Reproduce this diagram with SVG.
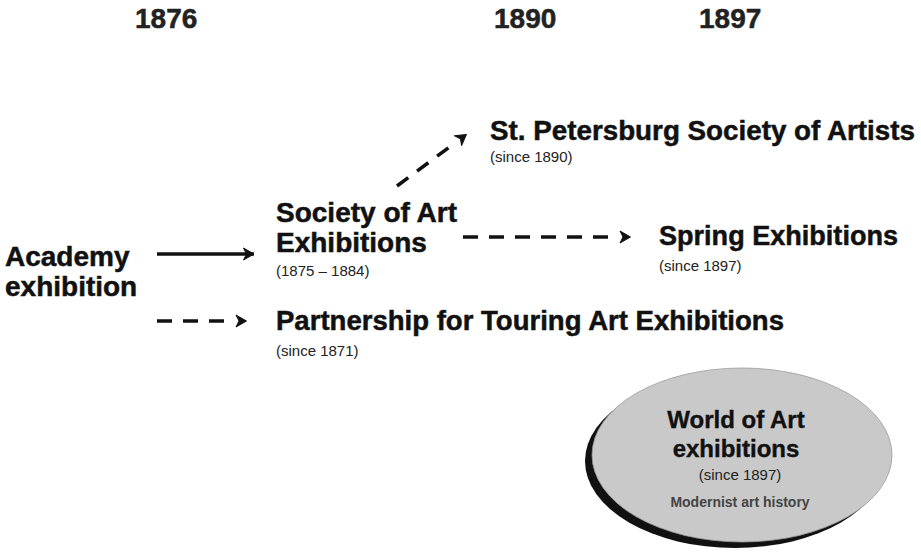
<svg xmlns="http://www.w3.org/2000/svg" width="921" height="553" viewBox="0 0 921 553">
  <style>
    .year { font-family: "Liberation Sans", Arial, sans-serif; font-weight: bold; font-size: 28px; fill: #222; stroke: #222; stroke-width: 0.5; }
    .title { font-family: "Liberation Sans", Arial, sans-serif; font-weight: bold; font-size: 28px; fill: #111; stroke: #111; stroke-width: 0.5; }
    .sub { font-family: "Liberation Sans", Arial, sans-serif; font-size: 15px; fill: #222; }
    .wtitle { font-family: "Liberation Sans", Arial, sans-serif; font-weight: bold; font-size: 24px; fill: #111; stroke: #111; stroke-width: 0.4; }
    .note { font-family: "Liberation Sans", Arial, sans-serif; font-weight: bold; font-size: 14px; fill: #444; }
    .link { fill: none; stroke: #111; stroke-width: 3.6; }
    .dash { stroke-dasharray: 15 11; }
    .dash-diag { stroke-dasharray: 14 11; }
  </style>
  <defs>
    <!-- arrowhead set right at the end of a solid line -->
    <marker id="head" viewBox="0 -7 12 14" refX="11" refY="0" markerWidth="12" markerHeight="14" markerUnits="userSpaceOnUse" orient="auto">
      <path d="M0.5,-6 L11,0 L0.5,6 L3.5,0 Z" fill="#111" stroke="#111" stroke-width="1" stroke-linejoin="round"/>
    </marker>
    <!-- arrowhead placed one gap beyond the last dash -->
    <marker id="head-gap" viewBox="0 -7 24 14" refX="0" refY="0" markerWidth="24" markerHeight="14" markerUnits="userSpaceOnUse" orient="auto">
      <path d="M12,-6 L22.5,0 L12,6 L15,0 Z" fill="#111" stroke="#111" stroke-width="1" stroke-linejoin="round"/>
    </marker>
  </defs>

  <!-- timeline years -->
  <g id="years">
    <text class="year" x="135" y="28">1876</text>
    <text class="year" x="494" y="28">1890</text>
    <text class="year" x="699" y="28">1897</text>
  </g>

  <!-- connectors -->
  <g id="connectors">
    <line class="link" x1="157" y1="254" x2="254" y2="254" marker-end="url(#head)"/>
    <line class="link dash" x1="157" y1="321" x2="224" y2="321" marker-end="url(#head-gap)"/>
    <line class="link dash" x1="463" y1="237" x2="608" y2="237" marker-end="url(#head-gap)"/>
    <line class="link dash-diag" x1="397" y1="186" x2="448.4" y2="147.8" marker-end="url(#head-gap)"/>
  </g>

  <g id="academy">
    <text class="title" x="5" y="266">Academy</text>
    <text class="title" x="5" y="296">exhibition</text>
  </g>

  <g id="society">
    <text class="title" x="276" y="222">Society of Art</text>
    <text class="title" x="276" y="252">Exhibitions</text>
    <text class="sub" x="276" y="276">(1875 – 1884)</text>
  </g>

  <g id="petersburg">
    <text class="title" x="490" y="140" textLength="425" lengthAdjust="spacingAndGlyphs">St. Petersburg Society of Artists</text>
    <text class="sub" x="490" y="162">(since 1890)</text>
  </g>

  <g id="spring">
    <text class="title" x="659" y="245" textLength="239" lengthAdjust="spacingAndGlyphs">Spring Exhibitions</text>
    <text class="sub" x="659" y="271">(since 1897)</text>
  </g>

  <g id="partnership">
    <text class="title" x="276" y="330" textLength="508" lengthAdjust="spacingAndGlyphs">Partnership for Touring Art Exhibitions</text>
    <text class="sub" x="276" y="356">(since 1871)</text>
  </g>

  <g id="world-of-art">
    <ellipse cx="735" cy="461" rx="150" ry="87" fill="#111"/>
    <ellipse cx="742" cy="455" rx="150" ry="87" fill="#c9c9c9" stroke="#9a9a9a" stroke-width="0.8"/>
    <text class="wtitle" x="736" y="428" text-anchor="middle">World of Art</text>
    <text class="wtitle" x="736" y="457" text-anchor="middle">exhibitions</text>
    <text class="sub" x="740" y="480" text-anchor="middle">(since 1897)</text>
    <text class="note" x="740" y="507" text-anchor="middle">Modernist art history</text>
  </g>
</svg>
